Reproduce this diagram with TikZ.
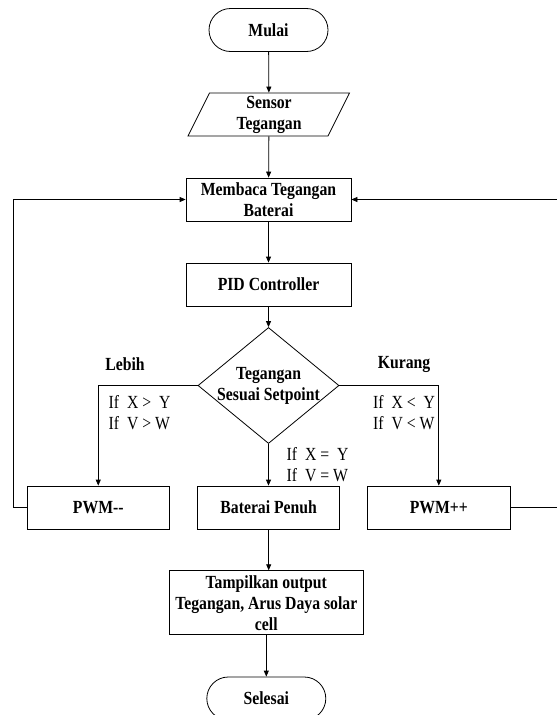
\documentclass[tikz,border=0pt]{standalone}
\usepackage{fontspec}
\setmainfont{Liberation Serif}[FakeStretch=0.85]
\usetikzlibrary{shapes.geometric,arrows.meta}
\newcommand\mysz{\fontsize{18.5}{21}\selectfont}
\tikzset{
  box/.style={draw, line width=0.8pt, minimum height=43pt, inner sep=0pt, align=center, font=\mysz\bfseries},
  term/.style={box, rounded corners=21.5pt, minimum width=119pt},
  arr/.style={-{Triangle[length=6pt,width=5pt]}, line width=0.8pt},
  ln/.style={line width=0.8pt},
  cond/.style={font=\mysz, align=left, inner sep=0pt, anchor=west},
  lbl/.style={font=\mysz\bfseries, inner sep=0pt}
}
\begin{document}
\begin{tikzpicture}[x=1pt,y=-1pt]
\useasboundingbox (0,0) rectangle (557,715);
% nodes
\node[term] (mulai) at (268.5,30) {Mulai};
\draw[ln] (188,136) -- (209.5,93) -- (349.5,93) -- (328,136) -- cycle;
\node[box, draw=none, minimum width=120pt] (sensor) at (269,114.5) {Sensor\\Tegangan};
\node[box, minimum width=165pt] (baca) at (268.5,199.5) {Membaca Tegangan\\Baterai};
\node[box, minimum width=165pt] (pid) at (268.5,284.5) {PID Controller};
\node[diamond, draw, line width=0.8pt, minimum width=141pt, minimum height=116pt, inner sep=0pt] (dec) at (268.5,385.5) {};
\node[lbl, align=center] (dect) at (268.5,386) {Tegangan\\Sesuai Setpoint};
\node[box, minimum width=142.5pt] (pwmm) at (98.25,507.5) {PWM-{}-};
\node[box, minimum width=142pt] (penuh) at (268.7,507.5) {Baterai Penuh};
\node[box, minimum width=142.3pt] (pwmp) at (438.8,507.5) {PWM++};
\node[box, minimum width=193.3pt, minimum height=64pt] (tampil) at (266.3,602.7) {Tampilkan output\\Tegangan, Arus Daya solar\\cell};
\node[term] (selesai) at (266.3,698.5) {Selesai};
% labels
\node[lbl] (lebih) at (125,364) {Lebih};
\node[lbl] (kurang) at (404,364) {Kurang};
\node[cond] (c1) at (108.5,412.5) {If~~X >~~Y\\If~~V > W};
\node[cond] (c2) at (373,412.5) {If~~X <~~Y\\If~~V < W};
\node[cond] (c3) at (286.5,465) {If~~X =~~Y\\If~~V = W};
% connectors
\coordinate (lx) at (13,0);
\coordinate (rx) at (562,0);
\draw[arr] (mulai) -- (sensor);
\draw[arr] (sensor) -- (baca);
\draw[arr] (baca) -- (pid);
\draw[arr] (pid) -- (dec);
\draw[arr] (dec.west) -- (dec.west -| pwmm.north) -- (pwmm.north);
\draw[arr] (dec.east) -- (dec.east -| pwmp.north) -- (pwmp.north);
\draw[arr] (dec.south) -- (dec.south |- penuh.north);
\draw[arr] (penuh.south) -- (penuh.south |- tampil.north);
\draw[arr] (tampil) -- (selesai);
\draw[arr] (pwmm.west) -- (pwmm.west -| lx) -- (baca.west -| lx) -- (baca.west);
\draw[arr] (pwmp.east) -- (pwmp.east -| rx) -- (baca.east -| rx) -- (baca.east);
\end{tikzpicture}
\end{document}
